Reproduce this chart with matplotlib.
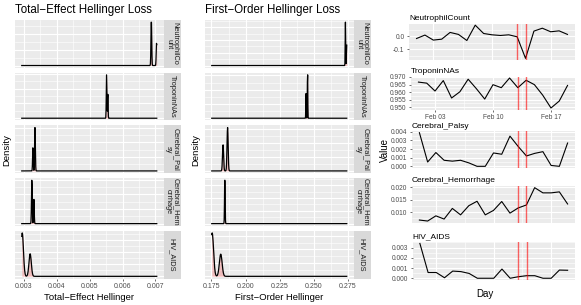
import numpy as np
import pandas as pd
import matplotlib
matplotlib.use("Agg")
import matplotlib.pyplot as plt
import matplotlib.dates as mdates
from matplotlib.ticker import FixedLocator, MaxNLocator, AutoMinorLocator, FormatStrFormatter

plt.rcParams['font.family'] = ['Liberation Sans', 'DejaVu Sans']

'------DATA------'

variables = ["NeutrophilCount", "TroponinNAs", "Cerebral_Palsy",
             "Cerebral_Hemorrhage", "HIV_AIDS"]
strip_labels = ["NeutrophilCo\nunt", "TroponinNAs", "Cerebral_Pal\nsy",
                "Cerebral_Hem\norrhage", "HIV_AIDS"]

# Hellinger loss samples per variable (total-effect)
te_samples = [
    [0.00687, 0.00687, 0.00688, 0.00688, 0.00703, 0.00704],
    [0.00551, 0.00551, 0.00551, 0.00552, 0.00555, 0.00555],
    [0.00327, 0.00327, 0.00333, 0.00333, 0.00333, 0.00334],
    [0.00323, 0.00324, 0.00324, 0.00324, 0.00330, 0.00330],
    [0.00293, 0.00294, 0.00295, 0.00296, 0.00318, 0.00319],
]
te_bw = [0.000010, 0.000008, 0.000010, 0.000010, 0.000035]
te_ticks = [0.003, 0.004, 0.005, 0.006, 0.007]

# Hellinger loss samples per variable (first-order)
fo_samples = [
    [0.2733, 0.2733, 0.2733, 0.2734, 0.2742, 0.2743],
    [0.2455, 0.2455, 0.2455, 0.2456, 0.2444, 0.2444],
    [0.1835, 0.1835, 0.1835, 0.1868, 0.1868, 0.1868, 0.1868, 0.1869],
    [0.1847, 0.1848, 0.1848, 0.1849],
    [0.1752, 0.1754, 0.1756, 0.1758, 0.1817, 0.1819],
]
fo_bw = [0.00015, 0.00015, 0.0004, 0.0002, 0.0010]
fo_ticks = [0.175, 0.200, 0.225, 0.250, 0.275]

# daily series
day_start, day_end = "2020-02-01", "2020-02-19"
event_days = ["2020-02-13", "2020-02-14"]
date_ticks = ["2020-02-03", "2020-02-10", "2020-02-17"]

neutrophil = [-0.018, 0.008, -0.030, -0.023, 0.028, 0.013, -0.033, 0.083, 0.020, 0.010,
              0.005, 0.010, -0.005, -0.168, 0.038, 0.060, 0.033, 0.040, 0.013]
troponin = [0.9666, 0.9659, 0.9607, 0.9676, 0.9561, 0.9602, 0.9685, 0.9622, 0.9554, 0.9649,
            0.9629, 0.9693, 0.9629, 0.9678, 0.9649, 0.9580, 0.9495, 0.9541, 0.9644]
cerebral_palsy = [0.0039, 0.0005, 0.0016, 0.0007, 0.0006, 0.0007, 0.0004, 0.0000, 0.0000, 0.00155,
                  0.0014, 0.0035, 0.0023, 0.0012, 0.0015, 0.0017, 0.0001, 0.0000, 0.0027]
cerebral_hem = [0.0068, 0.0064, 0.0085, 0.0072, 0.0115, 0.0089, 0.0126, 0.0144, 0.0089, 0.0107,
                0.0143, 0.0096, 0.0117, 0.0129, 0.0199, 0.0178, 0.0178, 0.0182, 0.0133]
hiv_aids = [0.0034, 0.00056, 0.00056, 0.00005, 0.0007, 0.00065, 0.00047, 0.0, 0.0, 0.0,
            0.0009, 0.0, 0.00015, 0.00025, 0.00025, 0.0, 0.0, 0.0008, 0.00078]

series = [neutrophil, troponin, cerebral_palsy, cerebral_hem, hiv_aids]
series_yticks = [[-0.1, 0.0],
                 [0.950, 0.955, 0.960, 0.965, 0.970],
                 [0.000, 0.001, 0.002, 0.003, 0.004],
                 [0.010, 0.015, 0.020],
                 [0.000, 0.001, 0.002, 0.003]]
series_fmt = ['%.1f', '%.3f', '%.3f', '%.3f', '%.3f']

'------STYLE------'

W, H = 581, 305
BG = '#EBEBEB'
STRIP = '#D9D9D9'
TXT = '#1A1A1A'
TICK = '#4D4D4D'

fig = plt.figure(figsize=(W / 100, H / 100), dpi=100)


def px_axes(l, t, r, b):
    return fig.add_axes([l / W, 1 - b / H, (r - l) / W, (b - t) / H])


def gg_style(ax):
    ax.set_facecolor(BG)
    for s in ax.spines.values():
        s.set_visible(False)
    ax.set_axisbelow(True)
    ax.grid(True, which='major', color='white', lw=0.8)
    ax.grid(True, which='minor', color='white', lw=0.4)
    ax.tick_params(which='both', colors='#333333', labelcolor=TICK,
                   labelsize=5.0, length=1.7, width=0.5, pad=1.5)
    ax.tick_params(which='minor', length=0)


def kde(samples, bw, grid):
    s = np.asarray(samples)
    z = (grid[:, None] - s[None, :]) / bw
    return np.exp(-0.5 * z * z).sum(axis=1) / (len(s) * bw * np.sqrt(2 * np.pi))


def density_column(samples, bws, ticks, x0, x1, xlabel, title, ylab_x):
    lo = min(min(s) for s in samples)
    hi = max(max(s) for s in samples)
    grid = np.linspace(lo, hi, 512)
    pad = 0.05 * (hi - lo)
    top, h, gap = 20, 47.7, 5
    step = ticks[1] - ticks[0]
    for i, (smp, bw) in enumerate(zip(samples, bws)):
        t = top + i * (h + gap)
        ax = px_axes(x0, t, x1, t + h)
        gg_style(ax)
        d = kde(smp, bw, grid)
        ax.fill_between(grid, 0, d, color='red', alpha=0.2, lw=0)
        ax.plot(grid, d, color='black', lw=0.9)
        ax.set_xlim(lo - pad, hi + pad)
        ax.set_ylim(-0.05 * d.max(), 1.05 * d.max())
        ax.xaxis.set_major_locator(FixedLocator(ticks))
        ax.xaxis.set_minor_locator(FixedLocator(
            [ticks[0] - step / 2] + [v + step / 2 for v in ticks]))
        ax.yaxis.set_major_locator(MaxNLocator(4))
        ax.yaxis.set_minor_locator(AutoMinorLocator(2))
        ax.tick_params(axis='y', left=False, labelleft=False)
        if i < len(samples) - 1:
            ax.tick_params(axis='x', bottom=False, labelbottom=False)
        else:
            ax.xaxis.set_major_formatter(FormatStrFormatter('%.3f'))
            ax.set_xlabel(xlabel, fontsize=6.8, color='black', labelpad=2)
        sax = px_axes(x1, t, x1 + 17, t + h)
        sax.set_facecolor(STRIP)
        sax.set_xticks([])
        sax.set_yticks([])
        for s in sax.spines.values():
            s.set_visible(False)
        sax.text(0.5, 0.5, strip_labels[i], rotation=270, ha='center', va='center',
                 fontsize=5.3, color=TXT, linespacing=0.95, transform=sax.transAxes)
    fig.text(x0 / W, 1 - 10 / H, title, fontsize=8.3, color='black',
             ha='left', va='center')
    fig.text(ylab_x / W, 1 - 150 / H, 'Density', fontsize=6.8, rotation=90,
             ha='center', va='center')


density_column(te_samples, te_bw, te_ticks, 15, 163.5,
               'Total\u2212Effect Hellinger', 'Total\u2212Effect Hellinger Loss', 7)
density_column(fo_samples, fo_bw, fo_ticks, 205, 353.5,
               'First\u2212Order Hellinger', 'First\u2212Order Hellinger Loss', 196)

'------TIME SERIES------'

days = mdates.date2num(pd.date_range(day_start, day_end).to_pydatetime())
events = mdates.date2num(pd.to_datetime(event_days).to_pydatetime())
dticks = mdates.date2num(pd.to_datetime(date_ticks).to_pydatetime())

boxes = [(409, 23.5, 575, 60), (411, 76.5, 575, 109.5), (412, 131, 575, 168),
         (412, 186, 575, 222.7), (412.5, 241.7, 575, 280)]

for i, (vals, yt, fmt, box) in enumerate(zip(series, series_yticks, series_fmt, boxes)):
    ax = px_axes(*box)
    gg_style(ax)
    ax.plot(days, vals, color='black', lw=0.8)
    for e in events:
        ax.axvline(e, color='red', alpha=0.6, lw=1.0)
    xpad = 0.05 * (days[-1] - days[0])
    ax.set_xlim(days[0] - xpad, days[-1] + xpad)
    ypad = 0.05 * (max(vals) - min(vals))
    ax.set_ylim(min(vals) - ypad, max(vals) + ypad)
    ax.xaxis.set_major_locator(FixedLocator(dticks))
    ax.xaxis.set_minor_locator(FixedLocator(
        [dticks[0] - 3.5] + [v + 3.5 for v in dticks]))
    ax.yaxis.set_major_locator(FixedLocator(yt))
    ystep = yt[1] - yt[0]
    ax.yaxis.set_minor_locator(FixedLocator(
        [yt[0] - ystep / 2] + [v + ystep / 2 for v in yt]))
    ax.yaxis.set_major_formatter(FormatStrFormatter(fmt))
    ax.tick_params(axis='y', labelsize=4.8)
    if i == 1:
        ax.xaxis.set_major_formatter(mdates.DateFormatter('%b %d'))
        ax.tick_params(axis='x', labelsize=4.8)
    else:
        ax.tick_params(axis='x', bottom=False, labelbottom=False)
    fig.text(box[0] / W, 1 - (box[1] - 1.5) / H, variables[i], fontsize=6.0,
             color='black', ha='left', va='bottom')

fig.text(385 / W, 1 - 150 / H, 'Value', fontsize=7, rotation=90, ha='center', va='center')
fig.text(485 / W, 1 - 294 / H, 'Day', fontsize=7, ha='center', va='center')

fig.savefig('out.png', dpi=100, facecolor='white')
